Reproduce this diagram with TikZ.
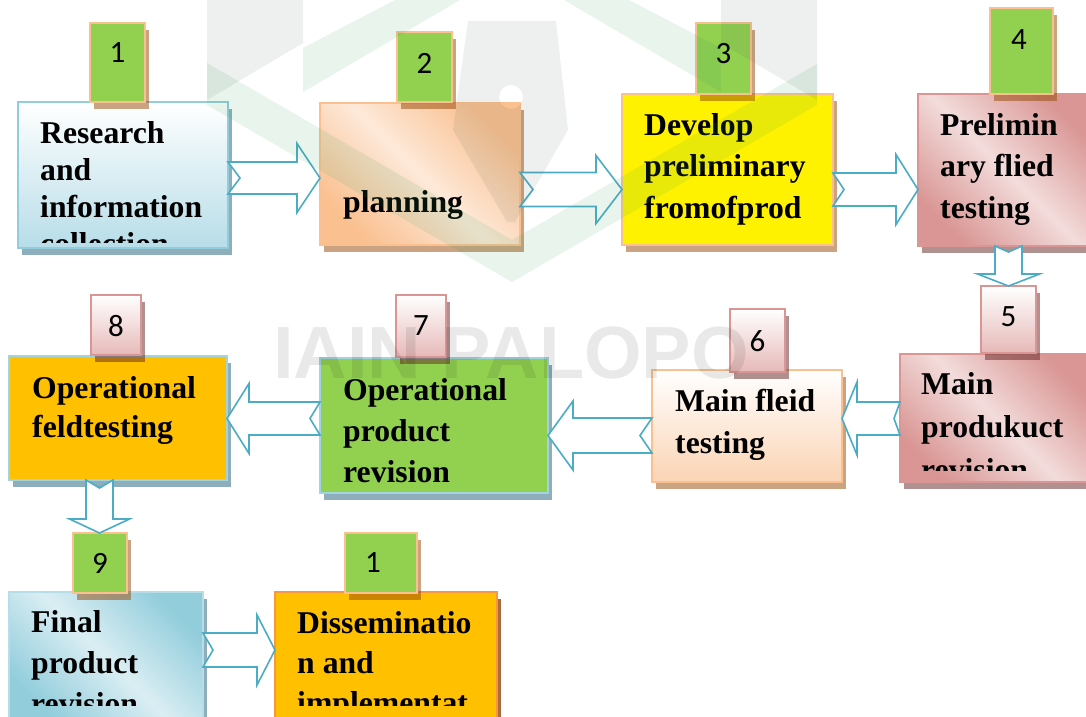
\documentclass[tikz,border=0pt]{standalone}
\usepackage{fontspec}
\setmainfont{Liberation Serif}
\newfontfamily\numfont{Carlito}
\newfontfamily\wmfont{Liberation Sans}
\usetikzlibrary{calc,shadows}
\definecolor{aquaD}{HTML}{4BACC6}
\definecolor{aquaM}{HTML}{92CDDC}
\definecolor{aquaL}{HTML}{B7DDE8}
\definecolor{aquaXL}{HTML}{DAEEF3}
\definecolor{orM}{HTML}{FAC090}
\definecolor{orL}{HTML}{FBD4B4}
\definecolor{orXL}{HTML}{FDE9D9}
\definecolor{orD}{HTML}{F79646}
\definecolor{pkM}{HTML}{D99694}
\definecolor{pkL}{HTML}{E6B9B8}
\definecolor{pkXL}{HTML}{F2DCDB}
\definecolor{grn}{HTML}{92D050}
\definecolor{gold}{HTML}{FFC000}
\definecolor{shBlue}{HTML}{1F5F7A}
\definecolor{shTan}{HTML}{974806}
\definecolor{shPink}{HTML}{632523}
\definecolor{wmGray}{HTML}{3A5A4A}
\definecolor{wmGreen}{HTML}{2E9E5A}
\tikzset{
 box/.style={draw, line width=2pt, anchor=north west, inner sep=0pt, outer sep=0pt},
 shb/.style={drop shadow={shadow xshift=4pt, shadow yshift=-7pt, fill=shBlue, opacity=0.5}},
 sht/.style={drop shadow={shadow xshift=4pt, shadow yshift=-7pt, fill=shTan, opacity=0.5}},
 shp/.style={drop shadow={shadow xshift=4pt, shadow yshift=-7pt, fill=shPink, opacity=0.5}},
 shd/.style={drop shadow={shadow xshift=4pt, shadow yshift=-7pt, fill=shTan, opacity=0.8}},
 diag/.style n args={2}{left color=#1, right color=#1, middle color=#2, shading angle=135},
 badge/.style={box, draw=orM, fill=grn, sht},
 pbadge/.style={box, draw=pkM, top color=white, bottom color=pkL, shp},
 num/.style={font=\numfont\fontsize{31}{31}\selectfont, inner sep=0pt},
 btxt/.style={anchor=base west, inner sep=0pt, font=\bfseries},
 barrow/.style={draw=aquaD, line width=1.6pt, fill=white, line join=miter},
 wmg/.style={fill=wmGreen, opacity=0.11},
 wmy/.style={fill=wmGray, opacity=0.09},
}
\newcommand\btext[5]{\node[btxt] (#1) at (#2,#3) {\fontsize{31.7}{#4}\selectfont\vtop{#5}};}
% block arrows: from, to, yc (or xc), half shaft, half head, head length, notch
\newcommand\arrR[7]{\draw[barrow] (#1.east |- 0,#3-#4) -- ($(#2.west |- 0,#3-#4)+(-#6,0)$) -- ($(#2.west |- 0,#3-#5)+(-#6,0)$) -- (#2.west |- 0,#3) -- ($(#2.west |- 0,#3+#5)+(-#6,0)$) -- ($(#2.west |- 0,#3+#4)+(-#6,0)$) -- (#1.east |- 0,#3+#4) -- ($(#1.east |- 0,#3)+(#7,0)$) -- cycle;}
\newcommand\arrL[7]{\draw[barrow] (#1.west |- 0,#3-#4) -- ($(#2.east |- 0,#3-#4)+(#6,0)$) -- ($(#2.east |- 0,#3-#5)+(#6,0)$) -- (#2.east |- 0,#3) -- ($(#2.east |- 0,#3+#5)+(#6,0)$) -- ($(#2.east |- 0,#3+#4)+(#6,0)$) -- (#1.west |- 0,#3+#4) -- ($(#1.west |- 0,#3)+(-#7,0)$) -- cycle;}
\newcommand\arrD[7]{\draw[barrow] (#3-#4,0 |- #1.south) -- ($(#3-#4,0 |- #2.north)+(0,-#6)$) -- ($(#3-#5,0 |- #2.north)+(0,-#6)$) -- (#3,0 |- #2.north) -- ($(#3+#5,0 |- #2.north)+(0,-#6)$) -- ($(#3+#4,0 |- #2.north)+(0,-#6)$) -- (#3+#4,0 |- #1.south) -- ($(#3,0 |- #1.south)+(0,#7)$) -- cycle;}
\begin{document}
\begin{tikzpicture}[x=1pt,y=-1pt]
\useasboundingbox (0,0) rectangle (1086,716);
\clip (0,0) rectangle (1086,716);
\fill[white] (0,0) rectangle (1086,716);
% ---- boxes
\node[box, draw=aquaM, top color=white, bottom color=aquaL, shb, minimum width=210pt, minimum height=146pt] (b1) at (18,102) {};
\node[box, draw=orM, diag={orM}{orXL}, sht, minimum width=200pt, minimum height=142pt] (b2) at (320,103) {};
\node[box, draw=orM, fill=yellow, sht, minimum width=211pt, minimum height=151pt] (b3) at (622,94) {};
\node[box, draw=pkM, diag={pkM}{pkXL}, shp, minimum width=174pt, minimum height=152pt] (b4) at (918,94) {};
\node[box, draw=pkM, diag={pkM}{pkXL}, shp, minimum width=192pt, minimum height=128pt] (b5) at (900,354) {};
\node[box, draw=orM, top color=white, bottom color=orL, sht, minimum width=190pt, minimum height=112pt] (b6) at (652,370) {};
\node[box, draw=aquaM!60!aquaL, fill=grn, shb, minimum width=228pt, minimum height=135pt] (b7) at (320,358) {};
\node[box, draw=aquaM!60!aquaL, fill=gold, shb, minimum width=218pt, minimum height=124pt] (b8) at (9,356) {};
\node[box, draw=aquaL, diag={aquaM}{aquaXL}, shb, minimum width=194pt, minimum height=130pt] (b9) at (9,592) {};
\node[box, draw=orD, fill=gold, shd, minimum width=222pt, minimum height=130pt] (b10) at (275,592) {};
% ---- arrows
\arrR{b1}{b2}{178}{16}{34.5}{23}{12}
\arrR{b2}{b3}{189.5}{17}{34}{26}{13}
\arrR{b3}{b4}{189.5}{16.5}{35}{22}{11}
\arrL{b5}{b6}{418.5}{16.5}{36.5}{15}{6}
\arrL{b6}{b7}{435.5}{17.5}{34.5}{25}{12}
\arrL{b7}{b8}{418.5}{16.5}{35}{22}{10}
\arrR{b9}{b10}{650}{17}{35}{18}{10}
% ---- badges
\node[badge, minimum width=55pt, minimum height=79pt] (g1) at (90,23) {};
\node[badge, minimum width=55pt, minimum height=70pt] (g2) at (397,32) {};
\node[badge, minimum width=55pt, minimum height=71pt] (g3) at (696,23) {};
\node[badge, minimum width=63pt, minimum height=86pt] (g4) at (990,8) {};
\node[pbadge, minimum width=55pt, minimum height=67pt] (g5) at (981,286) {};
\node[pbadge, minimum width=55pt, minimum height=63pt] (g6) at (730,309) {};
\node[pbadge, minimum width=50pt, minimum height=62pt] (g7) at (396,295) {};
\node[pbadge, minimum width=50pt, minimum height=60pt] (g8) at (91,295) {};
\node[badge, minimum width=54pt, minimum height=60pt] (g9) at (73,533) {};
\node[badge, minimum width=72pt, minimum height=60pt] (g10) at (345,533) {};
\arrD{b4}{g5}{1008.5}{13.5}{31}{12}{6}
\arrD{b8}{g9}{99.5}{13.5}{30}{14}{8}
% ---- numbers
\node[num] (n1) at (117.5,53) {1};
\node[num] (n2) at (424.5,63) {2};
\node[num] (n3) at (723.5,54) {3};
\node[num] (n4) at (1019,40) {4};
\node[num] (n5) at (1008.5,317) {5};
\node[num] (n6) at (757.5,341) {6};
\node[num] (n7) at (421,326) {7};
\node[num] (n8) at (116,326) {8};
\node[num] (n9) at (100,563) {9};
\node[num] (n10) at (373,563) {1};
% ---- texts
\begin{scope}
\clip (b1.north west) rectangle (b1.east |- 0,242);
\btext{t1}{40}{143}{37}{\hbox{Research}\hbox{and}\hbox{information}\hbox{collection}}
\end{scope}
\btext{t2}{343}{212}{38}{\hbox{planning}}
\btext{t3}{644}{135}{41.5}{\hbox{Develop}\hbox{preliminary}\hbox{fromofprod}}
\btext{t4}{940}{135}{41.5}{\hbox{Prelimin}\hbox{ary flied}\hbox{testing}}
\begin{scope}
\clip (b5.north west) rectangle (b5.east |- 0,470);
\btext{t5}{921}{394}{43}{\hbox{Main}\hbox{produkuct}\hbox{revision}}
\end{scope}
\btext{t6}{675}{411}{42}{\hbox{Main fleid}\hbox{testing}}
\btext{t7}{343}{400}{41}{\hbox{Operational}\hbox{product}\hbox{revision}}
\btext{t8}{32}{398}{39}{\hbox{Operational}\hbox{feldtesting}}
\begin{scope}
\clip (b9.north west) rectangle (b9.east |- 0,705);
\btext{t9}{31}{632}{41}{\hbox{Final}\hbox{product}\hbox{revision}}
\end{scope}
\begin{scope}
\clip (b10.north west) rectangle (b10.east |- 0,705);
\btext{t10}{297}{633}{40}{\hbox{Disseminatio}\hbox{n and}\hbox{implementat}}
\end{scope}
% ---- watermark
\fill[wmg] (207,105) -- (512,282) -- (817,105) -- (817,64) -- (512,240) -- (207,63) -- cycle;
\fill[wmg] (303,92) -- (460,0) -- (395,0) -- (303,48) -- cycle;
\fill[wmg] (721,92) -- (564,0) -- (629,0) -- (721,48) -- cycle;
\fill[wmy] (207,0) -- (303,0) -- (303,43) -- (207,100) -- cycle;
\fill[wmy] (721,0) -- (817,0) -- (817,100) -- (721,43) -- cycle;
\fill[wmy, even odd rule] (468,21) -- (556,21) -- (568,130) -- (515,222) -- (507,222) -- (453,130) -- cycle (511,97) circle[radius=12pt];
\node[anchor=base west, inner sep=0pt, font=\wmfont\bfseries\fontsize{74}{74}\selectfont, text=black, text opacity=0.085] (wm) at (273,378) {IAIN PALOPO};
\end{tikzpicture}
\end{document}
